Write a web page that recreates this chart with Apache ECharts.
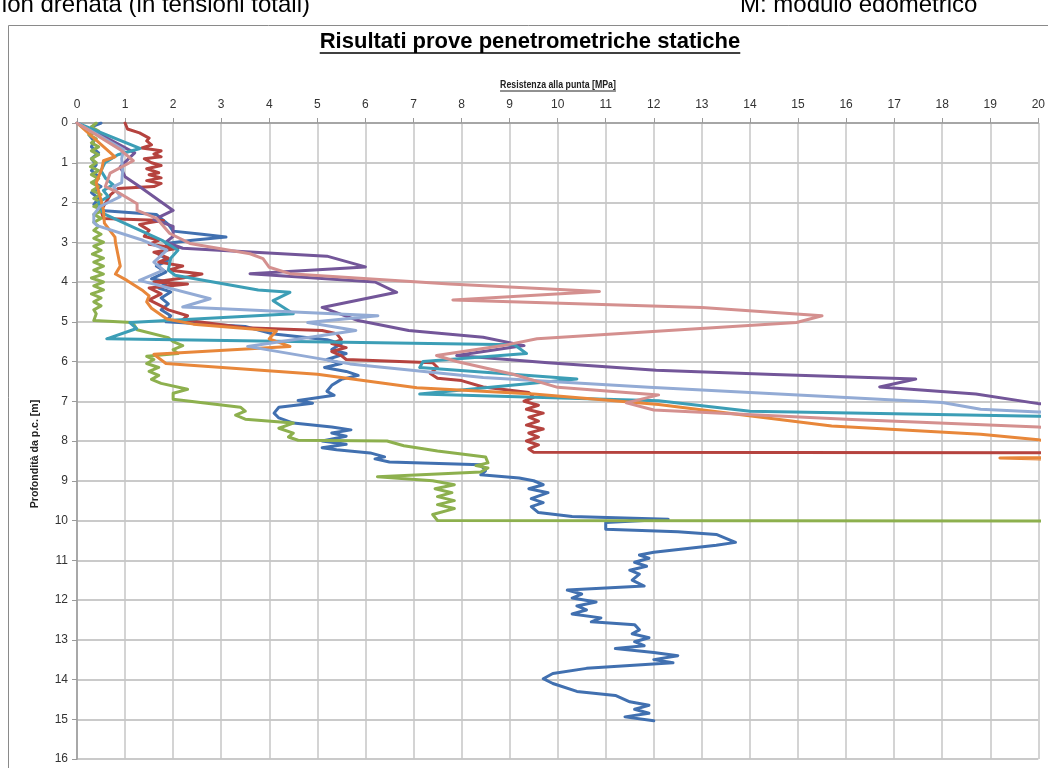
<!DOCTYPE html>
<html><head><meta charset="utf-8">
<script src="https://cdn.jsdelivr.net/npm/echarts@6/dist/echarts.min.js"></script>
<style>html,body{margin:0;padding:0;background:#fff;overflow:hidden}#c{width:1048px;height:768px}</style>
</head><body><div id="c"></div>
<script>
// ---- data: [qc (MPa), depth (m)] ----
const xTicks = [0,1,2,3,4,5,6,7,8,9,10,11,12,13,14,15,16,17,18,19,20];
const yTicks = [0,1,2,3,4,5,6,7,8,9,10,11,12,13,14,15,16];

const cptBlue = [[0.5,0],[0.3,0.1],[0.4,0.2],[0.25,0.3],[0.35,0.45],[0.3,0.6],[0.45,0.75],[0.3,0.9],[0.4,1.05],[0.3,1.2],[0.45,1.35],[0.35,1.5],[0.5,1.6],[0.3,1.75],[0.45,1.9],[0.35,2.05],[0.5,2.2],[1.65,2.3],[1.9,2.55],[2.0,2.72],[2.6,2.8],[3.1,2.87],[2.4,2.95],[1.85,3.03],[1.95,3.15],[1.7,3.3],[1.9,3.45],[1.65,3.6],[1.85,3.75],[1.55,3.92],[1.9,4.0],[1.7,4.15],[1.95,4.25],[1.75,4.4],[1.9,4.55],[1.75,4.7],[1.95,4.85],[1.85,5.0],[3.5,5.12],[4.05,5.3],[5.2,5.45],[5.5,5.55],[5.3,5.7],[5.6,5.8],[5.2,5.95],[5.5,6.05],[5.15,6.15],[5.6,6.25],[5.85,6.35],[5.5,6.45],[5.3,6.6],[5.2,6.75],[5.35,6.85],[4.6,6.98],[4.9,7.05],[4.2,7.15],[4.1,7.3],[4.2,7.42],[4.5,7.55],[5.3,7.65],[5.7,7.72],[5.3,7.8],[5.6,7.88],[5.1,8.0],[5.6,8.08],[5.1,8.17],[5.4,8.22],[6.1,8.3],[6.4,8.4],[6.2,8.45],[6.5,8.53],[8.4,8.6],[8.5,8.75],[8.4,8.85],[9.2,8.93],[9.5,9.0],[9.7,9.1],[9.4,9.2],[9.8,9.3],[9.45,9.45],[9.7,9.55],[9.45,9.65],[9.6,9.8],[10.3,9.9],[12.3,9.97],[11.0,10.05],[11.0,10.22],[12.5,10.28],[13.3,10.35],[13.5,10.45],[13.7,10.55],[13.3,10.62],[12.0,10.8],[11.7,10.87],[11.9,10.95],[11.6,11.05],[11.85,11.15],[11.5,11.25],[11.7,11.35],[11.55,11.5],[11.8,11.65],[10.2,11.75],[10.5,11.85],[10.3,11.95],[10.8,12.05],[10.4,12.15],[10.6,12.25],[10.3,12.35],[10.9,12.45],[10.7,12.55],[11.6,12.62],[11.7,12.75],[11.55,12.85],[11.9,12.95],[11.6,13.05],[11.8,13.15],[11.2,13.22],[12.0,13.32],[12.5,13.4],[12.0,13.5],[12.4,13.58],[10.6,13.72],[9.9,13.85],[9.7,13.98],[9.9,14.1],[10.4,14.3],[11.2,14.4],[11.5,14.56],[11.9,14.65],[11.6,14.75],[11.9,14.85],[11.4,14.94],[12.0,15.04]];

const cptRed = [[1.0,0],[1.05,0.15],[1.3,0.25],[1.5,0.38],[1.45,0.45],[1.55,0.55],[1.35,0.63],[1.75,0.7],[1.6,0.78],[1.75,0.85],[1.4,0.9],[1.55,1.0],[1.75,1.07],[1.45,1.15],[1.7,1.25],[1.5,1.3],[1.75,1.38],[1.45,1.45],[1.75,1.52],[1.6,1.6],[0.85,1.65],[0.7,1.8],[0.6,2.0],[0.5,2.2],[0.55,2.4],[1.8,2.45],[1.3,2.55],[1.5,2.7],[1.4,2.85],[1.7,2.95],[1.5,3.05],[2.1,3.15],[1.6,3.25],[1.9,3.4],[1.7,3.5],[2.2,3.6],[1.9,3.7],[2.6,3.8],[2.2,3.9],[1.6,4.0],[2.3,4.05],[1.5,4.15],[1.75,4.3],[1.5,4.45],[1.75,4.6],[1.9,4.7],[2.3,4.85],[2.2,4.95],[3.5,5.15],[5.1,5.22],[5.4,5.3],[5.5,5.45],[5.3,5.55],[5.6,5.65],[5.3,5.75],[5.5,5.85],[5.6,5.95],[7.4,6.03],[7.5,6.15],[7.35,6.3],[7.5,6.42],[8.0,6.48],[8.45,6.64],[9.4,6.78],[9.5,6.9],[9.3,7.0],[9.6,7.1],[9.35,7.2],[9.7,7.3],[9.4,7.4],[9.6,7.5],[9.35,7.6],[9.7,7.7],[9.4,7.8],[9.6,7.9],[9.35,8.0],[9.6,8.1],[9.4,8.2],[9.5,8.28],[25,8.3]];

const cptGreen = [[0.4,0],[0.3,0.1],[0.45,0.2],[0.25,0.3],[0.4,0.4],[0.3,0.5],[0.45,0.6],[0.3,0.7],[0.45,0.8],[0.3,0.9],[0.4,1.0],[0.28,1.1],[0.45,1.2],[0.3,1.3],[0.45,1.4],[0.3,1.5],[0.45,1.6],[0.32,1.7],[0.5,1.8],[0.35,1.9],[0.5,2.0],[0.35,2.1],[0.55,2.2],[0.35,2.3],[0.5,2.4],[0.35,2.5],[0.45,2.6],[0.35,2.7],[0.5,2.8],[0.35,2.9],[0.55,3.0],[0.35,3.1],[0.5,3.2],[0.32,3.3],[0.55,3.4],[0.35,3.5],[0.55,3.6],[0.35,3.7],[0.55,3.8],[0.3,3.9],[0.55,4.0],[0.35,4.1],[0.55,4.2],[0.3,4.3],[0.5,4.4],[0.35,4.5],[0.5,4.6],[0.35,4.7],[0.4,4.8],[0.35,4.97],[1.15,5.02],[1.2,5.1],[1.25,5.2],[1.9,5.4],[2.0,5.5],[2.2,5.6],[2.0,5.7],[2.1,5.8],[1.45,5.87],[1.6,5.95],[1.45,6.05],[1.7,6.15],[1.5,6.25],[1.7,6.35],[1.55,6.45],[1.75,6.55],[2.3,6.7],[2.0,6.8],[2.0,6.95],[3.4,7.15],[3.5,7.25],[3.3,7.35],[3.5,7.45],[4.5,7.55],[4.2,7.68],[4.5,7.8],[4.4,7.9],[4.6,7.98],[6.45,8.0],[6.8,8.12],[7.5,8.25],[8.5,8.4],[8.55,8.55],[8.3,8.62],[8.55,8.68],[8.4,8.78],[6.25,8.9],[7.4,9.0],[7.85,9.1],[7.45,9.2],[7.8,9.3],[7.5,9.4],[7.85,9.5],[7.5,9.6],[7.85,9.7],[7.4,9.85],[7.5,10.0],[25,10.02]];

const cptPurple = [[0,0],[0.5,0.3],[1.2,0.75],[0.9,1.1],[1.0,1.35],[1.3,1.6],[2.0,2.2],[1.6,2.43],[2.0,2.6],[2.0,2.85],[1.85,3.0],[2.2,3.15],[5.2,3.35],[6.0,3.62],[3.6,3.79],[6.2,4.0],[6.65,4.26],[5.1,4.64],[5.85,4.97],[6.9,5.22],[8.45,5.39],[9.3,5.6],[7.9,5.85],[9.8,6.03],[12.05,6.22],[14.5,6.33],[17.45,6.44],[16.7,6.64],[18.7,6.82],[20,7.06],[25,7.5]];

const cptTeal = [[0,0],[1.31,0.64],[0.85,0.8],[0.58,1.0],[0.5,1.2],[0.6,1.4],[0.75,1.55],[0.55,1.7],[0.65,1.85],[0.45,2.0],[0.5,2.15],[0.55,2.28],[1.77,2.95],[2.1,3.2],[1.95,3.4],[1.9,3.7],[2.04,3.83],[3.77,4.2],[4.43,4.26],[4.08,4.47],[4.5,4.8],[1.1,5.02],[1.24,5.17],[0.62,5.43],[9.1,5.58],[9.35,5.8],[7.2,6.0],[7.13,6.15],[10.4,6.44],[7.13,6.82],[12.1,6.99],[14.0,7.25],[20,7.38],[25,7.42]];

const cptOrange = [[0,0],[0.79,0.85],[0.55,0.95],[0.52,1.14],[0.4,1.5],[0.5,1.94],[0.55,2.2],[0.57,2.52],[0.79,2.87],[0.8,3.0],[0.85,3.3],[0.9,3.6],[0.8,3.8],[1.04,3.96],[1.35,4.2],[1.5,4.35],[1.45,4.5],[1.55,4.66],[1.87,4.93],[2.42,5.06],[4.15,5.23],[4.0,5.43],[4.43,5.62],[1.6,5.82],[1.85,6.05],[5.0,6.32],[7.07,6.66],[9.5,6.82],[12.1,7.08],[15.7,7.62],[18.8,7.83],[20,7.97],[22,8.38],[19.2,8.43],[22,8.5]];

const cptLightBlue = [[0,0],[0.97,0.67],[0.93,0.9],[0.95,1.2],[0.93,1.5],[0.76,1.6],[0.9,1.85],[0.48,2.1],[0.35,2.3],[0.35,2.5],[0.42,2.58],[1.37,2.95],[1.87,3.2],[1.6,3.5],[1.8,3.7],[1.3,3.96],[2.77,4.42],[2.2,4.63],[6.26,4.85],[4.8,5.02],[5.8,5.22],[3.55,5.62],[5.68,6.06],[8.45,6.4],[11.9,6.65],[18.0,7.03],[18.8,7.2],[20,7.27],[25,7.3]];

const cptPink = [[0,0],[0.9,0.67],[1.17,0.95],[0.69,1.26],[0.59,1.6],[0.86,1.75],[1.25,2.03],[1.25,2.2],[1.66,2.4],[1.93,2.78],[2.35,3.03],[3.6,3.29],[3.87,3.41],[4.0,3.63],[4.43,3.79],[7.75,4.05],[10.87,4.24],[7.82,4.45],[13.0,4.64],[15.5,4.85],[14.97,5.02],[9.57,5.43],[8.86,5.6],[7.48,5.85],[7.9,6.0],[9.07,6.32],[10.0,6.65],[12.1,6.84],[11.43,7.04],[12.0,7.22],[16,7.45],[20,7.65],[25,7.9]];

const seriesNames = ['CPT 1','CPT 2','CPT 3','CPT 4','CPT 5','CPT 6','CPT 7','CPT 8'];
const seriesData = [cptBlue, cptRed, cptGreen, cptPurple, cptTeal, cptOrange, cptLightBlue, cptPink];
const seriesColors = ['#4170B0','#B5433F','#8DB04E','#735699','#3C9EB6','#E8873A','#93ABD5','#D4908F'];

const titleText = 'Risultati prove penetrometriche statiche';
const xName = 'Resistenza alla punta [MPa]';
const yName = 'Profondità da p.c. [m]';
const topLeftText = 'ion drenata (in tensioni totali)';
const topRightText = 'M: modulo edometrico';

// ---- rendering ----
const SANS = '"Liberation Sans",Arial,sans-serif';
const titleFont = 'bold 22px ' + SANS;
const nameFont = 'bold 11px ' + SANS;
function textWidth(t, f){ const c=document.createElement('canvas').getContext('2d'); c.font=f; return c.measureText(t).width; }
const titleScale = 1.0, xNameScale = 0.80, yNameScale = 0.96;
const tw = textWidth(titleText, titleFont) * titleScale;
const xw = textWidth(xName, nameFont) * xNameScale;
const titleCx = 530, titleCy = 42;
const xNameCx = 558, xNameCy = 85;

const chart = echarts.init(document.getElementById('c'), null, {renderer:'canvas'});
chart.setOption({
  animation: false,
  backgroundColor: '#fff',
  grid: {left: 77, top: 123, right: 9, bottom: 9, containLabel: false},
  xAxis: {
    type: 'value', position: 'top', min: 0, max: 20, interval: 1,
    axisLine: {show: true, lineStyle: {color: '#9a9a9a', width: 1.5}},
    axisTick: {show: true, length: 5, lineStyle: {color: '#9a9a9a'}},
    axisLabel: {color: '#333', fontSize: 12, fontFamily: SANS, margin: 12},
    splitLine: {show: true, lineStyle: {color: '#C6C6C6', width: 1.5}}
  },
  yAxis: {
    type: 'value', inverse: true, min: 0, max: 16, interval: 1,
    axisLine: {show: true, lineStyle: {color: '#9a9a9a', width: 1.5}},
    axisTick: {show: true, length: 5, lineStyle: {color: '#9a9a9a'}},
    axisLabel: {color: '#333', fontSize: 12, fontFamily: SANS, margin: 9},
    splitLine: {show: true, lineStyle: {color: '#B8B8B8', width: 1.5}}
  },
  series: seriesData.map((d, i) => ({
    name: seriesNames[i], type: 'line', data: d, showSymbol: false, symbol: 'none',
    clip: true, z: 2 + i,
    lineStyle: {color: seriesColors[i], width: 3, join: 'round', cap: 'round'},
    itemStyle: {color: seriesColors[i]}
  })),
  graphic: [
    {type: 'rect', shape: {x: 8.5, y: 25.5, width: 1100, height: 800}, style: {fill: 'none', stroke: '#8a8a8a', lineWidth: 1}, z: 0, silent: true},
    {type: 'text', x: titleCx, y: titleCy, scaleX: titleScale, style: {text: titleText, font: titleFont, fill: '#000', align: 'center', verticalAlign: 'middle'}},
    {type: 'line', shape: {x1: titleCx - tw/2, y1: titleCy + 11, x2: titleCx + tw/2, y2: titleCy + 11}, style: {stroke: '#000', lineWidth: 1.5}},
    {type: 'text', x: xNameCx, y: xNameCy, scaleX: xNameScale, style: {text: xName, font: nameFont, fill: '#222', align: 'center', verticalAlign: 'middle'}},
    {type: 'line', shape: {x1: xNameCx - xw/2, y1: xNameCy + 6, x2: xNameCx + xw/2, y2: xNameCy + 6}, style: {stroke: '#222', lineWidth: 1}},
    {type: 'text', x: 35, y: 454, rotation: Math.PI/2, scaleX: yNameScale, style: {text: yName, font: nameFont, fill: '#222', align: 'center', verticalAlign: 'middle'}},
    {type: 'text', x: 310, y: 17, style: {text: topLeftText, font: '24px ' + SANS, fill: '#000', align: 'right', verticalAlign: 'bottom'}},
    {type: 'text', x: 740, y: 17, style: {text: topRightText, font: '24px ' + SANS, fill: '#000', align: 'left', verticalAlign: 'bottom'}}
  ]
});
</script></body></html>
